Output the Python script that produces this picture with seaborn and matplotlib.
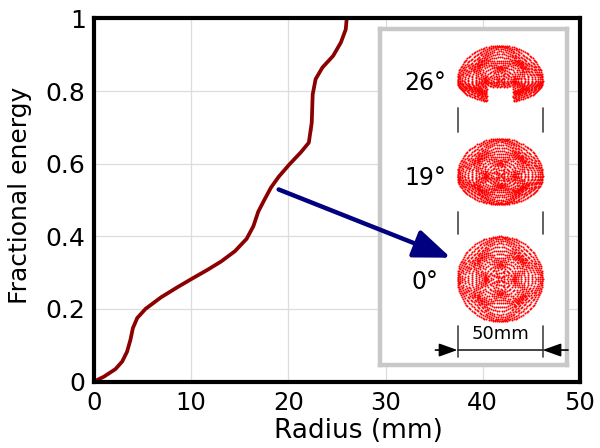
import numpy as np
import matplotlib
matplotlib.use('Agg')
import matplotlib.pyplot as plt
import seaborn as sns
import pandas as pd

# Encircled energy curve
radius_mm = [0.0, 1.0, 2.2, 2.9, 3.4, 3.75, 4.0, 4.45, 5.3, 6.9, 8.6, 10.0, 11.7, 13.1,
             14.5, 15.7, 16.4, 16.9, 17.5, 18.2, 19.0, 20.1, 21.3, 22.1, 22.4, 22.4,
             22.5, 22.8, 23.5, 24.6, 25.4, 25.9, 26.0]
frac_energy = [0.0, 0.013, 0.034, 0.055, 0.082, 0.115, 0.147, 0.175, 0.2, 0.232, 0.26, 0.282,
               0.308, 0.331, 0.359, 0.393, 0.428, 0.468, 0.499, 0.534, 0.564, 0.598, 0.632,
               0.658, 0.69, 0.736, 0.791, 0.833, 0.865, 0.897, 0.934, 0.97, 1.0]

x_ticks = [0, 10, 20, 30, 40, 50]
y_ticks = [0, 0.2, 0.4, 0.6, 0.8, 1.0]
y_tick_labels = ['0', '0.2', '0.4', '0.6', '0.8', '1']

# Spot diagram inset (mm, spot centres relative to the 0 deg spot)
field_labels = ['26°', '19°', '0°']
spot_offsets = [116.5, 60.6, 0.0]
top_scale = [0.83, 0.88, 1.0]
bottom_scale = [0.5, 0.67, 1.0]
spot_diameter = 50
pupil_rings = 18

df = pd.DataFrame({'r': radius_mm, 'e': frac_energy})

sns.set_style('whitegrid')
plt.rcParams['font.family'] = ['DejaVu Sans']
for k in ['text.color', 'axes.labelcolor', 'xtick.color', 'ytick.color']:
    plt.rcParams[k] = 'black'

fig = plt.figure(figsize=(6, 4.48), dpi=100)
ax = fig.add_axes([94 / 600, 1 - 381.5 / 448, 486 / 600, 363 / 448])
sns.lineplot(data=df, x='r', y='e', ax=ax, color='#8b0000', lw=2.7, sort=False)
ax.set_xlim(0, 50)
ax.set_ylim(0, 1)
ax.set_xticks(x_ticks)
ax.set_yticks(y_ticks)
ax.set_yticklabels(y_tick_labels)
ax.tick_params(axis='x', labelsize=17.5, length=0, pad=7)
ax.tick_params(axis='y', labelsize=18, length=0, pad=6)
ax.set_xlabel('Radius (mm)', fontsize=19)
ax.set_ylabel('Fractional energy', fontsize=18)
ax.xaxis.set_label_coords(0.545, -0.10)
ax.yaxis.set_label_coords(-0.128, 0.514)
ax.grid(color='#dddddd', lw=0.9)
for s in ax.spines.values():
    s.set_color('black')
    s.set_linewidth(3)

# inset box
ins = fig.add_axes([380 / 600, 1 - 365 / 448, 187 / 600, 336 / 448])
ins.set_xlim(-70.6, 39.4)
ins.set_ylim(-50.6, 147)
ins.set_xticks([])
ins.set_yticks([])
ins.grid(False)
ins.set_facecolor('white')
for s in ins.spines.values():
    s.set_color('#c8c8c8')
    s.set_linewidth(3.2)

# pupil sampled on rings of rays, with a wavy four-fold aberration
sx, sy = [], []
for k in range(1, pupil_rings + 1):
    r = k / pupil_rings
    th = np.linspace(0, 2 * np.pi, 7 * k, endpoint=False)
    rp = r + 0.07 * np.sin(3 * np.pi * r) * np.cos(4 * th)
    sx.append(rp * np.cos(th))
    sy.append(rp * np.sin(th))
R = spot_diameter / 2
sx = np.concatenate(sx)
sy = np.concatenate(sy)
scale = R / np.hypot(sx, sy).max()
sx, sy = sx * scale, sy * scale
for lab, off, ts, bs in zip(field_labels, spot_offsets, top_scale, bottom_scale):
    yy = np.where(sy > 0, sy * ts, sy * bs)
    xx = sx.copy()
    m = np.ones_like(xx, dtype=bool)
    if bs < 0.6:
        m = ~((np.abs(xx) < 0.3 * R) & (yy < -0.15 * R))
    ins.scatter(xx[m], yy[m] + off, s=2.2, color='red', lw=0)
    ins.text(-44, off - 1.5, lab, fontsize=17, ha='center', va='center')

# marker ticks between spots
for y0, y1 in [(86.5, 100.6), (26.5, 39.4), (-45.9, -27.6)]:
    for xv in [-25, 25]:
        ins.plot([xv, xv], [y0, y1], color='#444444', lw=1.2)
ins.plot([-25, 25], [-41.8, -41.8], color='#222222', lw=1.2)
ins.annotate('', xy=(-25, -41.8), xytext=(-38, -41.8),
             arrowprops=dict(arrowstyle='-|>,head_length=0.7,head_width=0.25', color='black',
                             lw=1.2, mutation_scale=16, shrinkA=0, shrinkB=0))
ins.annotate('', xy=(25, -41.8), xytext=(40, -41.8),
             arrowprops=dict(arrowstyle='-|>,head_length=0.7,head_width=0.25', color='black',
                             lw=1.2, mutation_scale=16, shrinkA=0, shrinkB=0))
ins.text(0, -32.4, '50mm', fontsize=13, ha='center', va='center')

# pointer from the curve to the on-axis spot, drawn above the inset
ins.annotate('', xy=(36.7, 0.341), xycoords=ax.transData,
             xytext=(19.0, 0.529), textcoords=ax.transData, annotation_clip=False,
             arrowprops=dict(arrowstyle='-|>,head_length=0.9,head_width=0.35', color='#000080',
                             lw=3.2, mutation_scale=25, shrinkA=0, shrinkB=0), zorder=10)

fig.savefig('out.png', dpi=100)
